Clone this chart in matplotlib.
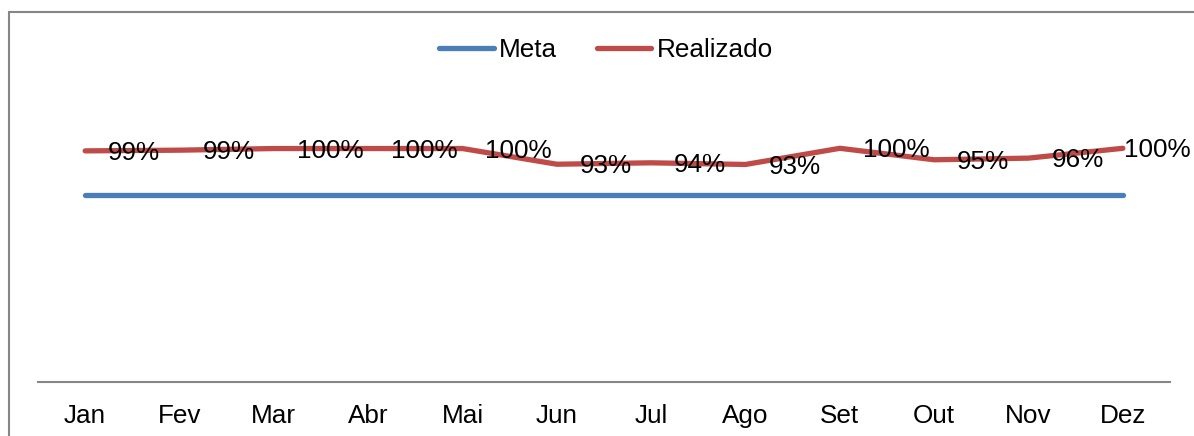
import matplotlib
matplotlib.use("Agg")
import matplotlib.pyplot as plt
from matplotlib.patches import Rectangle

# dados
meses = ["Jan", "Fev", "Mar", "Abr", "Mai", "Jun", "Jul", "Ago", "Set", "Out", "Nov", "Dez"]
meta = [0.80] * 12
realizado = [0.987, 0.99, 0.997, 0.997, 0.997, 0.930, 0.936, 0.929, 0.998, 0.949, 0.956, 0.998]

plt.rcParams["font.family"] = ["Liberation Sans", "DejaVu Sans"]
fs = 18.8

fig = plt.figure(figsize=(11.94, 4.36), dpi=100)
ax = fig.add_axes([38 / 1194, 1 - 382 / 436, (1170 - 38) / 1194, (382 - 101) / 436])

x = list(range(len(meses)))
ax.plot(x, meta, color="#4A7EBB", lw=3.8, solid_capstyle="round", label="Meta")
ax.plot(x, realizado, color="#BE4B48", lw=3.8, solid_capstyle="round", label="Realizado")

# rótulos de dados à direita dos pontos (o último encosta na borda)
for xi, v in zip(x, realizado):
    dx = 16.5 if xi < len(x) - 1 else 0.5
    ax.annotate(f"{v:.0%}", (xi, v), xytext=(dx, -1.5), textcoords="offset points",
                ha="left", va="center", fontsize=fs, annotation_clip=False)

ax.set_xlim(-0.5, 11.5)
ax.set_ylim(0, 1.2)
ax.set_xticks(x)
ax.set_xticklabels(meses, fontsize=fs)
ax.tick_params(axis="x", length=0, pad=15.5)
ax.set_yticks([])
for s in ["top", "right", "left"]:
    ax.spines[s].set_visible(False)
ax.spines["bottom"].set_color("#868686")
ax.spines["bottom"].set_linewidth(1.5)

leg = fig.legend(loc="center", bbox_to_anchor=(606 / 1194, 1 - 50 / 436), ncol=2,
                 frameon=False, fontsize=fs, handlelength=2.1, handletextpad=0.2,
                 columnspacing=1.5)

# borda do gráfico (cortada à direita e embaixo)
fig.patches.append(Rectangle((9 / 1194, -0.1), 1.2, (436 - 12) / 436 + 0.1,
                             transform=fig.transFigure, fill=False,
                             edgecolor="#868686", lw=1.5))

fig.savefig("out.png", dpi=100)
